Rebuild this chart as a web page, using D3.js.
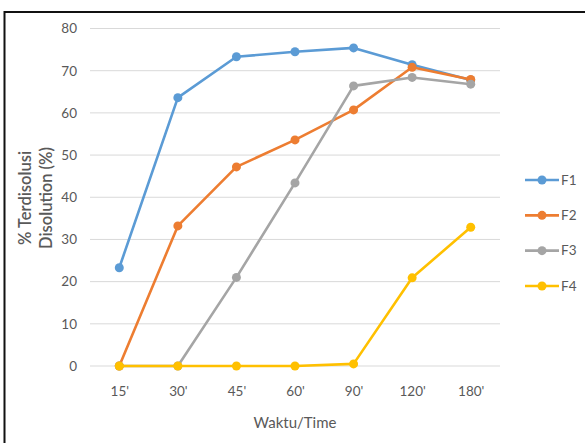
<!DOCTYPE html>
<html>
<head>
<meta charset="utf-8">
<script src="https://cdn.jsdelivr.net/npm/d3@7"></script>
<style>
  html, body { margin: 0; padding: 0; background: #fff; }
  svg { display: block; }
  text { font-family: Lato, "Open Sans", sans-serif; }
</style>
</head>
<body>
<svg id="chart" width="585" height="443"></svg>
<script>
// Dissolution profile: percentage dissolved over time for formulas F1–F4
const times = ["15'", "30'", "45'", "60'", "90'", "120'", "180'"];
const seriesNames = ["F1", "F2", "F3", "F4"];
const f1 = [23.3, 63.6, 73.3, 74.5, 75.4, 71.4, 67.8];
const f2 = [0, 33.2, 47.2, 53.6, 60.7, 70.8, 67.9];
const f3 = [0, 0, 21.0, 43.4, 66.4, 68.4, 66.8];
const f4 = [0, 0, 0, 0, 0.5, 20.9, 32.9];
const yTicks = [0, 10, 20, 30, 40, 50, 60, 70, 80];
const colors = ["#5B9BD5", "#ED7D31", "#A5A5A5", "#FFC000"];

const series = [f1, f2, f3, f4].map((values, i) => ({
  name: seriesNames[i],
  color: colors[i],
  points: values.map((v, j) => ({ t: times[j], v }))
}));

const svg = d3.select("#chart");

// outer frame (top and left edges)
svg.append("line").attr("x1", 4.5).attr("x2", 585).attr("y1", 12).attr("y2", 12)
  .attr("stroke", "#111").attr("stroke-width", 2);
svg.append("line").attr("x1", 4.5).attr("x2", 4.5).attr("y1", 11).attr("y2", 443)
  .attr("stroke", "#111").attr("stroke-width", 2);

const plot = { left: 90, right: 500, top: 28.5, bottom: 366 };

const x = d3.scalePoint().domain(times).range([plot.left, plot.right]).padding(0.5);
const y = d3.scaleLinear().domain([0, 80]).range([plot.bottom, plot.top]);

// horizontal gridlines
svg.append("g").selectAll("line").data(yTicks).join("line")
  .attr("x1", plot.left).attr("x2", plot.right)
  .attr("y1", d => y(d)).attr("y2", d => y(d))
  .attr("stroke", "#D9D9D9").attr("stroke-width", 1);

// y axis labels
const yAxis = d3.axisLeft(y).tickValues(yTicks).tickSize(0).tickPadding(0);
svg.append("g").attr("transform", `translate(${plot.left - 13},0)`).call(yAxis)
  .call(g => g.select(".domain").remove())
  .call(g => g.selectAll("text").attr("fill", "#595959").attr("font-size", 13.5)
    .attr("font-family", "Lato, sans-serif"));

// x axis labels
const xAxis = d3.axisBottom(x).tickSize(0).tickPadding(0);
svg.append("g").attr("transform", `translate(0,${plot.bottom + 20})`).call(xAxis)
  .call(g => g.select(".domain").remove())
  .call(g => g.selectAll("text").attr("fill", "#595959").attr("font-size", 13.5)
    .attr("font-family", "Lato, sans-serif"));

// axis titles
svg.append("text").attr("x", 295).attr("y", 428).attr("text-anchor", "middle")
  .attr("fill", "#595959").attr("font-size", 15).text("Waktu/Time");

const yTitle = svg.append("text").attr("transform", "translate(0,198) rotate(-90)")
  .attr("text-anchor", "middle").attr("fill", "#595959").attr("font-size", 16.5)
  .attr("font-weight", 600);
yTitle.append("tspan").attr("x", 0).attr("y", 31).text("% Terdisolusi");
yTitle.append("tspan").attr("x", 0).attr("y", 52).text("Disolution (%)");

// series lines and markers
const line = d3.line().x(d => x(d.t)).y(d => y(d.v));
const gSeries = svg.append("g").selectAll("g").data(series).join("g");
gSeries.append("path")
  .attr("d", d => line(d.points))
  .attr("fill", "none").attr("stroke", d => d.color)
  .attr("stroke-width", 2.6).attr("stroke-linejoin", "round");
gSeries.selectAll("circle").data(d => d.points.map(p => ({ ...p, color: d.color }))).join("circle")
  .attr("cx", d => x(d.t)).attr("cy", d => y(d.v)).attr("r", 4.5)
  .attr("fill", d => d.color);

// legend
const legendY = d3.scalePoint().domain(seriesNames).range([180, 286]);
const legend = svg.append("g").selectAll("g").data(series).join("g")
  .attr("transform", d => `translate(0,${legendY(d.name)})`);
legend.append("line").attr("x1", 525).attr("x2", 559).attr("y1", 0).attr("y2", 0)
  .attr("stroke", d => d.color).attr("stroke-width", 2.6);
legend.append("circle").attr("cx", 542).attr("cy", 0).attr("r", 4.5).attr("fill", d => d.color);
legend.append("text").attr("x", 561).attr("y", 0).attr("dy", "0.35em")
  .attr("fill", "#595959").attr("font-size", 13.5).text(d => d.name);
</script>
</body>
</html>
